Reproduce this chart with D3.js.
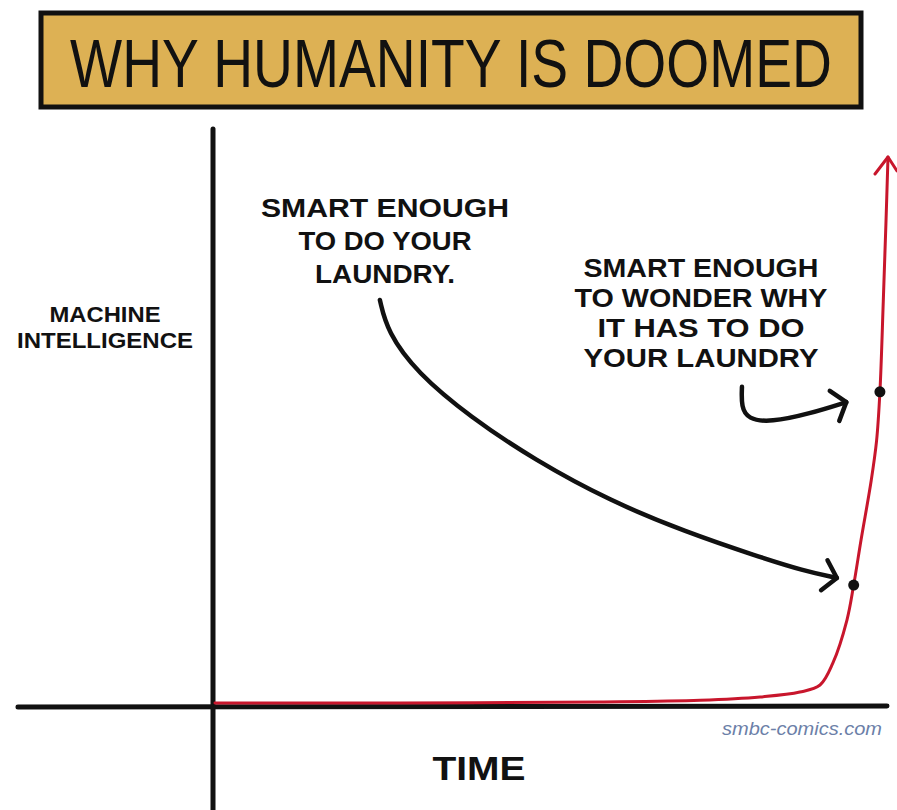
<!DOCTYPE html>
<html>
<head>
<meta charset="utf-8">
<script src="https://cdn.jsdelivr.net/npm/d3@7"></script>
<style>
  html, body { margin: 0; padding: 0; background: #ffffff; }
  svg { display: block; }
  text { font-family: "Liberation Sans", "DejaVu Sans", sans-serif; fill: #111; }
  .narrow { font-family: "Liberation Sans Narrow", "Liberation Sans", "DejaVu Sans", sans-serif; }
</style>
</head>
<body>
<svg id="chart" width="897" height="810"></svg>
<script>
// ---- data ----
const titleText = "WHY HUMANITY IS DOOMED";
const yAxisLabel = ["MACHINE", "INTELLIGENCE"];
const xAxisLabel = "TIME";
const watermark = "smbc-comics.com";

// machine intelligence over time (arbitrary units 0-100)
const timeValues = [0, 27.5, 57.2, 72.1, 81.0, 86.9, 89.9, 91.8, 93.9, 94.9, 96.0, 97.5, 98.3, 98.8, 99.3, 99.7, 100];
const intelligenceValues = [0, 0, 0.2, 0.5, 1.1, 2.0, 3.3, 7.3, 15.2, 21.6, 29.9, 40.7, 48.0, 57.0, 73.6, 88.1, 100];

// highlighted moments
const markerTimes = [94.9, 98.8];
const markerValues = [21.6, 57.0];

// annotation texts
const note1Lines = ["SMART ENOUGH", "TO DO YOUR", "LAUNDRY."];
const note2Lines = ["SMART ENOUGH", "TO WONDER WHY", "IT HAS TO DO", "YOUR LAUNDRY"];

// annotation arrow paths (data units)
const arrow1Time = [24.5, 25.6, 30.0, 37.9, 47.5, 58.7, 70.0, 80.5, 87.5, 92.4];
const arrow1Value = [73.8, 68.0, 60.5, 52.4, 44.5, 37.0, 31.3, 26.9, 24.2, 22.9];
const arrow2Time = [78.3, 78.2, 79.2, 82.5, 88.4, 93.8];
const arrow2Value = [57.9, 54.2, 52.0, 51.4, 53.0, 55.1];

// ---- layout ----
const svg = d3.select("#chart");

const x = d3.scaleLinear().domain([0, 100]).range([215, 888]);
const y = d3.scaleLinear().domain([0, 100]).range([703, 157]);

// title box
svg.append("rect")
  .attr("x", 41).attr("y", 13).attr("width", 820).attr("height", 94)
  .attr("fill", "#DDB154").attr("stroke", "#111").attr("stroke-width", 5);
const titleBaseline = 87;
const title = svg.append("text")
  .attr("class", "narrow")
  .attr("x", 451).attr("y", titleBaseline)
  .attr("text-anchor", "middle")
  .attr("font-size", 67)
  .text(titleText);
// fit the title to the target width by adjusting font size, then stretch it vertically
{
  const target = 762, targetCap = 49;
  const len = title.node().getComputedTextLength();
  let fs = 67;
  if (len > 0) fs = Math.min(70, 67 * target / len);
  title.attr("font-size", fs);
  const sy = Math.max(1, targetCap / (fs * 0.716));
  title.attr("transform", `translate(0,${titleBaseline}) scale(1,${sy}) translate(0,${-titleBaseline})`);
}

// axes
const axisG = svg.append("g").attr("stroke", "#111").attr("stroke-linecap", "round");
axisG.append("line").attr("x1", 18).attr("x2", 887).attr("y1", 707).attr("y2", 706).attr("stroke-width", 5);
axisG.append("line").attr("x1", 213).attr("x2", 213).attr("y1", 129).attr("y2", 812).attr("stroke-width", 5);

// curve
const data = timeValues.map((t, i) => ({t, v: intelligenceValues[i]}));
const line = d3.line().x(d => x(d.t)).y(d => y(d.v)).curve(d3.curveCatmullRom.alpha(0.5));
svg.append("path").datum(data)
  .attr("d", line)
  .attr("fill", "none").attr("stroke", "#C8162C").attr("stroke-width", 3)
  .attr("stroke-linecap", "round");

// arrowhead on the curve
const last = data[data.length - 1];
const tipX = x(last.t), tipY = y(last.v);
svg.append("path")
  .attr("d", `M${tipX - 13},${tipY + 17} L${tipX},${tipY} L${tipX + 9},${tipY + 14}`)
  .attr("fill", "none").attr("stroke", "#C8162C").attr("stroke-width", 3)
  .attr("stroke-linecap", "round").attr("stroke-linejoin", "round");

// markers
svg.selectAll("circle.marker").data(markerTimes.map((t, i) => ({t, v: markerValues[i]})))
  .join("circle").attr("class", "marker")
  .attr("cx", d => x(d.t)).attr("cy", d => y(d.v)).attr("r", 5.5)
  .attr("fill", "#111");

// annotation arrows
const arrowLine = d3.line().x(d => x(d.t)).y(d => y(d.v)).curve(d3.curveBasis);
function drawArrow(ts, vs, headAngleDeg) {
  const pts = ts.map((t, i) => ({t, v: vs[i]}));
  svg.append("path").datum(pts).attr("d", arrowLine)
    .attr("fill", "none").attr("stroke", "#111").attr("stroke-width", 4.5)
    .attr("stroke-linecap", "round");
  const p = pts[pts.length - 1], q = pts[pts.length - 2];
  const px = x(p.t), py = y(p.v), qx = x(q.t), qy = y(q.v);
  const ang = Math.atan2(py - qy, px - qx);
  const len = 20, spread = headAngleDeg * Math.PI / 180;
  const a1 = ang + Math.PI - spread, a2 = ang + Math.PI + spread;
  svg.append("path")
    .attr("d", `M${px + len * Math.cos(a1)},${py + len * Math.sin(a1)} L${px},${py} L${px + len * Math.cos(a2)},${py + len * Math.sin(a2)}`)
    .attr("fill", "none").attr("stroke", "#111").attr("stroke-width", 4.5)
    .attr("stroke-linecap", "round").attr("stroke-linejoin", "round");
}
drawArrow(arrow1Time, arrow1Value, 50);
drawArrow(arrow2Time, arrow2Value, 52);

// annotation texts
function drawLines(lines, cx, baselines, widths, size) {
  lines.forEach((s, i) => {
    svg.append("text")
      .attr("x", cx).attr("y", baselines[i])
      .attr("text-anchor", "middle")
      .attr("font-size", size).attr("font-weight", "bold")
      .attr("textLength", widths[i]).attr("lengthAdjust", "spacingAndGlyphs")
      .text(s);
  });
}
drawLines(note1Lines, 385, [217, 250, 283], [248, 173, 140], 26);
drawLines(note2Lines, 701, [277, 307, 337, 367], [235, 253, 207, 235], 25);
drawLines(yAxisLabel, 105, [322, 348], [111, 176], 22);
drawLines([xAxisLabel], 479, [780], [93], 34);

// watermark
svg.append("text")
  .attr("x", 802).attr("y", 735)
  .attr("text-anchor", "middle")
  .attr("font-size", 19)
  .attr("font-style", "italic")
  .attr("textLength", 160).attr("lengthAdjust", "spacingAndGlyphs")
  .style("fill", "#6C7FA8")
  .text(watermark);
</script>
</body>
</html>
